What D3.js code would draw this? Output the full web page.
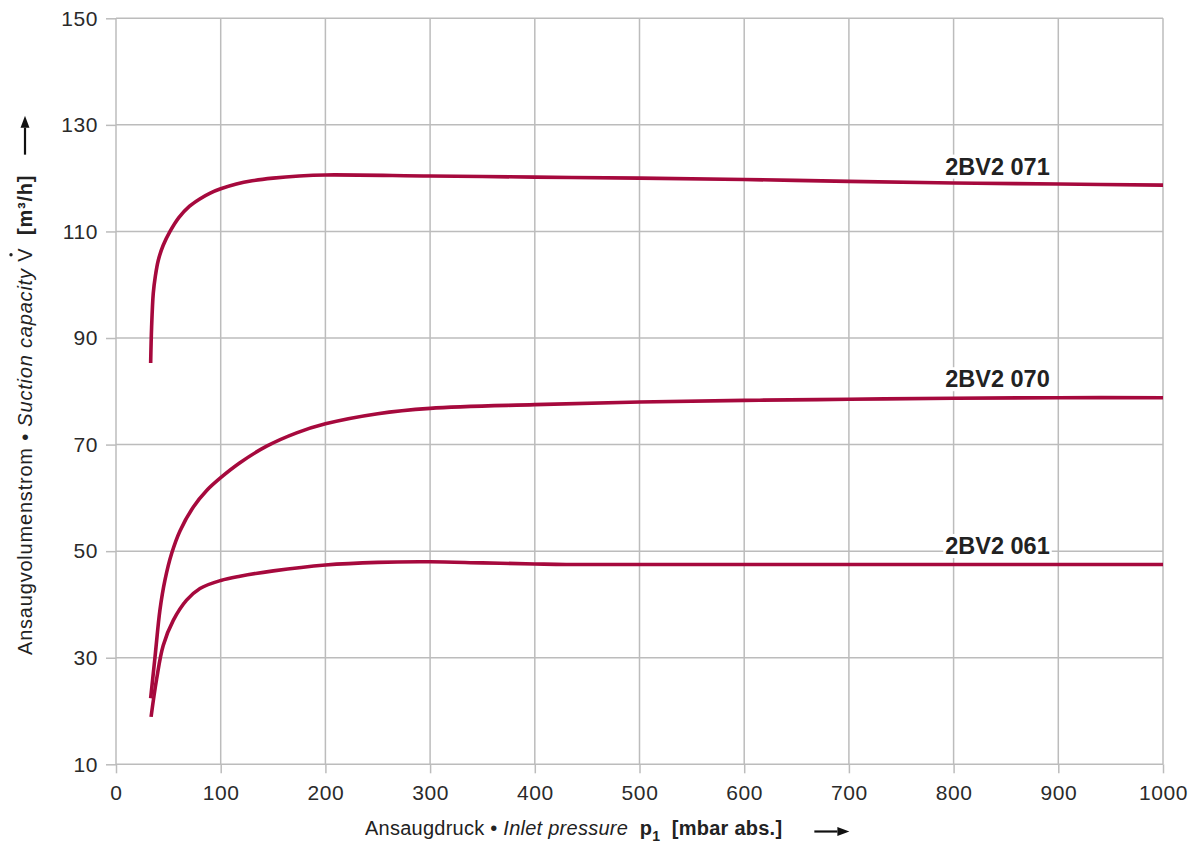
<!DOCTYPE html>
<html>
<head>
<meta charset="utf-8">
<script src="https://cdn.jsdelivr.net/npm/d3@7/dist/d3.min.js"></script>
<style>
  body { margin: 0; background: #fff; }
  svg { font-family: "Liberation Sans", Arial, Helvetica, sans-serif; }
  .grid line { stroke: #bcbcbc; stroke-width: 1.5; }
  .axis path { display: none; }
  .axis line { stroke: #bcbcbc; stroke-width: 1.5; }
  .axis text { font-size: 21px; letter-spacing: 0.6px; fill: #2a2a2a; }
  .title { font-size: 20px; fill: #222; white-space: pre; }
  .curve { fill: none; stroke: #a6093d; stroke-width: 3.6; }
  .label { font-size: 23.5px; font-weight: bold; fill: #222; }
</style>
</head>
<body>
<svg id="chart" width="1200" height="847"></svg>
<script>
  // inlet pressure p1 [mbar abs.] and suction capacity [m3/h]
  var p071 = [33.1, 34.0, 35.6, 37.5, 40.4, 45.1, 51.6, 60, 70, 80, 90, 100, 115, 130, 150, 175, 200, 300, 400, 500, 600, 700, 800, 900, 1000],
      v071 = [85.3, 92.0, 98.4, 101.5, 104.6, 107.4, 110.0, 112.6, 114.7, 116.1, 117.2, 118.0, 118.9, 119.5, 120.0, 120.4, 120.6, 120.4, 120.2, 120.0, 119.75, 119.4, 119.1, 118.9, 118.7];

  var p070 = [33.1, 37.3, 42, 46.8, 53.2, 61.1, 73.9, 86.6, 100, 118.4, 143.9, 172.5, 200, 250, 300, 400, 500, 600, 700, 800, 900, 1000],
      v070 = [22.4, 30.2, 39.0, 44.6, 49.6, 53.8, 58.3, 61.4, 63.8, 66.6, 69.7, 72.2, 73.9, 75.8, 76.8, 77.5, 78.0, 78.3, 78.5, 78.7, 78.8, 78.8];

  var p061 = [33.5, 38.8, 45.1, 54.7, 67.4, 80.2, 100, 118.4, 150.3, 200, 250, 300, 350, 400, 430, 500, 600, 700, 800, 900, 1000],
      v061 = [18.9, 26.0, 32.3, 37.0, 40.8, 43.0, 44.5, 45.3, 46.3, 47.4, 47.9, 48.0, 47.8, 47.6, 47.5, 47.5, 47.5, 47.5, 47.5, 47.5, 47.5];

  var seriesNames = ['2BV2 071', '2BV2 070', '2BV2 061'];
  var xTicks = [0, 100, 200, 300, 400, 500, 600, 700, 800, 900, 1000],
      yTicks = [10, 30, 50, 70, 90, 110, 130, 150];
  var labelAt = 792; // pressure where the type names start

  var series = [
    { name: seriesNames[0], p: p071, v: v071 },
    { name: seriesNames[1], p: p070, v: v070 },
    { name: seriesNames[2], p: p061, v: v061 }
  ];

  var margin = { top: 18.3, right: 37, bottom: 82.7, left: 116 },
      width = 1200 - margin.left - margin.right,
      height = 847 - margin.top - margin.bottom;

  var svg = d3.select('#chart');
  var g = svg.append('g')
    .attr('transform', 'translate(' + margin.left + ',' + margin.top + ')');

  var x = d3.scaleLinear().domain([0, 1000]).range([0, width]),
      y = d3.scaleLinear().domain([10, 150]).range([height, 0]);

  // grid
  var grid = g.append('g').attr('class', 'grid');
  grid.selectAll('.gx').data(xTicks).enter().append('line')
    .attr('x1', function(d) { return x(d); })
    .attr('x2', function(d) { return x(d); })
    .attr('y1', 0).attr('y2', height);
  grid.selectAll('.gy').data(yTicks).enter().append('line')
    .attr('y1', function(d) { return y(d); })
    .attr('y2', function(d) { return y(d); })
    .attr('x1', 0).attr('x2', width);

  g.append('g')
    .attr('class', 'axis')
    .attr('transform', 'translate(0,' + height + ')')
    .call(d3.axisBottom(x).tickValues(xTicks).tickSize(9).tickPadding(12).tickFormat(d3.format('d')));

  g.append('g')
    .attr('class', 'axis')
    .call(d3.axisLeft(y).tickValues(yTicks).tickSize(10).tickPadding(8).tickFormat(d3.format('d')));

  // curves
  var line = d3.line()
    .x(function(d) { return x(d[0]); })
    .y(function(d) { return y(d[1]); })
    .curve(d3.curveCatmullRom.alpha(0.5));

  g.selectAll('.curve').data(series).enter().append('path')
    .attr('class', 'curve')
    .attr('d', function(s) { return line(d3.zip(s.p, s.v)); });

  // type names with a white patch over the grid
  series.forEach(function(s) {
    var lg = g.append('g');
    var t = lg.append('text')
      .attr('class', 'label')
      .attr('x', x(labelAt))
      .attr('y', y(s.v[s.v.length - 1]) - 10.5)
      .text(s.name);
    var bb = t.node().getBBox();
    lg.insert('rect', 'text')
      .attr('x', bb.x - 2).attr('y', bb.y + 1)
      .attr('width', bb.width + 4).attr('height', bb.height - 2)
      .attr('fill', '#fff');
  });

  function arrow(sel, x1, y1, x2, y2) {
    var ang = Math.atan2(y2 - y1, x2 - x1), L = 12, W = 4.5;
    var bx = x2 - L * Math.cos(ang), by = y2 - L * Math.sin(ang);
    sel.append('line')
      .attr('x1', x1).attr('y1', y1).attr('x2', bx).attr('y2', by)
      .attr('stroke', '#111').attr('stroke-width', 2.2);
    sel.append('path')
      .attr('d', 'M' + x2 + ',' + y2 +
        'L' + (bx - W * Math.sin(ang)) + ',' + (by + W * Math.cos(ang)) +
        'L' + (bx + W * Math.sin(ang)) + ',' + (by - W * Math.cos(ang)) + 'Z')
      .attr('fill', '#111');
  }

  // x title
  var xt = svg.append('text')
    .attr('class', 'title')
    .style('letter-spacing', '0.25px')
    .attr('x', 365).attr('y', 835);
  xt.append('tspan').text('Ansaugdruck • ');
  xt.append('tspan').style('font-style', 'italic').text('Inlet pressure  ');
  xt.append('tspan').style('font-weight', 'bold').text('p');
  xt.append('tspan').style('font-weight', 'bold').style('font-size', '14px').attr('dy', 6).text('1');
  xt.append('tspan').style('font-weight', 'bold').attr('dy', -6).text('  [mbar abs.]');
  var xb = xt.node().getBBox();
  arrow(svg, xb.x + xb.width + 32, 831.5, xb.x + xb.width + 67, 831.5);

  // y title
  var yg = svg.append('g')
    .attr('transform', 'translate(32,655) rotate(-90)');
  var yt = yg.append('text').attr('class', 'title').style('letter-spacing', '0.8px');
  yt.append('tspan').text('Ansaugvolumenstrom • ');
  yt.append('tspan').style('font-style', 'italic').text('Suction capacity ');
  yt.append('tspan').text('V');
  yt.append('tspan').style('font-weight', 'bold').text('  [m³/h]');
  var vi = 'Ansaugvolumenstrom • Suction capacity '.length;
  var vx = yt.node().getStartPositionOfChar(vi).x,
      vw = yt.node().getSubStringLength(vi, 1);
  yg.append('circle')
    .attr('cx', vx + vw / 2).attr('cy', -21)
    .attr('r', 1.7).attr('fill', '#222');
  var len = yt.node().getBBox().width;
  arrow(svg, 25, 655 - len - 20, 25, 655 - len - 59);
</script>
</body>
</html>
